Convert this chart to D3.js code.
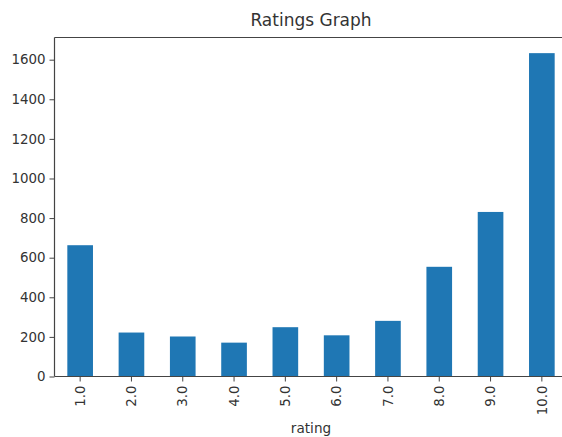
<!DOCTYPE html>
<html><head><meta charset="utf-8">
<script src="https://cdn.jsdelivr.net/npm/d3@7"></script>
<style>body{margin:0;background:#fff}svg{display:block}text{font-family:"DejaVu Sans",sans-serif;fill:#333}</style>
</head><body>
<script>
const categories = ["1.0","2.0","3.0","4.0","5.0","6.0","7.0","8.0","9.0","10.0"];
const counts = [663, 222, 202, 171, 249, 208, 281, 554, 831, 1633];
const yTicks = [0, 200, 400, 600, 800, 1000, 1200, 1400, 1600];

const W = 562, H = 437;
const m = {left: 54.5, right: 567.5, top: 37.5, bottom: 376.5};
const svg = d3.select("body").append("svg").attr("width", W).attr("height", H);

const x = d3.scaleBand().domain(categories).range([m.left, m.right]).paddingInner(0.5).paddingOuter(0.25);
const y = d3.scaleLinear().domain([0, 1712]).range([m.bottom, m.top]);

svg.append("g").selectAll("rect").data(categories).join("rect")
  .attr("x", d => x(d)).attr("width", x.bandwidth())
  .attr("y", (d, i) => y(counts[i])).attr("height", (d, i) => y(0) - y(counts[i]))
  .attr("fill", "#1f77b4");

const ya = svg.append("g").attr("transform", `translate(${m.left},0)`)
  .call(d3.axisLeft(y).tickValues(yTicks).tickSize(5).tickPadding(4).tickFormat(d3.format("d")));
ya.select(".domain").remove();
ya.selectAll("line").attr("stroke", "#444");
ya.selectAll("text").attr("font-size", 13.4).style("fill", "#333");

const xa = svg.append("g").attr("transform", `translate(0,${m.bottom})`)
  .call(d3.axisBottom(x).tickSize(5).tickPadding(4));
xa.select(".domain").remove();
xa.selectAll("line").attr("stroke", "#444");
xa.selectAll("text").attr("font-size", 13.4).style("fill", "#333")
  .attr("transform", "rotate(-90)").attr("text-anchor", "end")
  .attr("x", -9).attr("y", 0).attr("dy", "0.35em");

// spines
svg.append("line").attr("x1", m.left).attr("x2", m.left).attr("y1", m.top).attr("y2", m.bottom).attr("stroke", "#444").attr("stroke-width", 1.2);
svg.append("line").attr("x1", m.left).attr("x2", m.right).attr("y1", m.top).attr("y2", m.top).attr("stroke", "#444").attr("stroke-width", 1.2);
svg.append("line").attr("x1", m.left).attr("x2", m.right).attr("y1", m.bottom).attr("y2", m.bottom).attr("stroke", "#444").attr("stroke-width", 1.2);

svg.append("text").attr("x", (m.left + m.right) / 2).attr("y", 26).attr("text-anchor", "middle").attr("font-size", 17).text("Ratings Graph");
svg.append("text").attr("x", (m.left + m.right) / 2).attr("y", 433).attr("text-anchor", "middle").attr("font-size", 13.6).text("rating");
</script>
</body></html>
